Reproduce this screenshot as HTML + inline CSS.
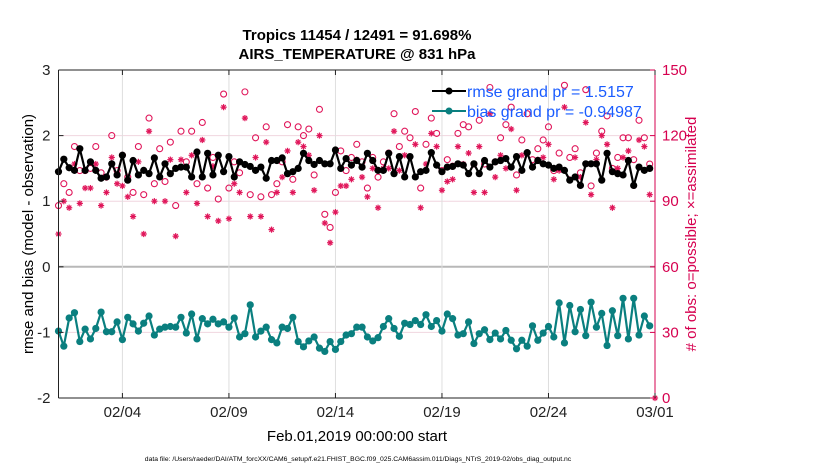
<!DOCTYPE html>
<html><head><meta charset="utf-8">
<style>
html,body{margin:0;padding:0;background:#fff;}
svg{display:block;font-family:"Liberation Sans",Arial,sans-serif;}
</style></head>
<body>
<svg id="chart" width="830" height="470" viewBox="0 0 830 470">
<text x="357" y="40" text-anchor="middle" font-size="15" font-weight="bold">Tropics 11454 / 12491 = 91.698%</text>
<text x="357" y="59" text-anchor="middle" font-size="15" font-weight="bold">AIRS_TEMPERATURE @ 831 hPa</text>
<g id="grid"></g>
<g id="marks"></g>
<g id="axes"></g>
<text transform="translate(33,234) rotate(-90)" text-anchor="middle" font-size="15">rmse and bias (model - observation)</text>
<text transform="translate(696,234) rotate(-90)" text-anchor="middle" font-size="15" fill="#d6004f"># of obs: o=possible; ×=assimilated</text>
<text x="357" y="441" text-anchor="middle" font-size="15">Feb.01,2019 00:00:00 start</text>
<text x="358" y="461" text-anchor="middle" font-size="6.8">data file: /Users/raeder/DAI/ATM_forcXX/CAM6_setup/f.e21.FHIST_BGC.f09_025.CAM6assim.011/Diags_NTrS_2019-02/obs_diag_output.nc</text>
<g>
 <line x1="432" y1="91" x2="466" y2="91" stroke="#000" stroke-width="2"/>
 <circle cx="449" cy="91" r="3.5" fill="#000"/>
 <text x="467" y="97" font-size="16" fill="#1a5cff">rmse grand pr = 1.5157</text>
 <line x1="432" y1="111" x2="466" y2="111" stroke="#0a7f7f" stroke-width="2"/>
 <circle cx="449" cy="111" r="3.5" fill="#0a7f7f"/>
 <text x="467" y="117" font-size="16" fill="#1a5cff">bias grand pr = -0.94987</text>
</g>
</svg>
<script>
const xTickLabels = ["02/04","02/09","02/14","02/19","02/24","03/01"];
const xTickDays = [3,8,13,18,23,28];
const yLeftTicks = [3,2,1,0,-1,-2];
const yRightTicks = [150,120,90,60,30,0];
const rmse = [1.45,1.64,1.51,1.47,1.80,1.47,1.60,1.47,1.35,1.37,1.57,1.40,1.70,1.32,1.62,1.40,1.47,1.42,1.66,1.37,1.57,1.42,1.50,1.52,1.52,1.37,1.75,1.37,1.73,1.40,1.70,1.45,1.68,1.37,1.60,1.56,1.53,1.47,1.52,1.35,1.62,1.62,1.66,1.42,1.45,1.50,1.73,1.62,1.56,1.62,1.57,1.57,1.78,1.50,1.65,1.55,1.62,
1.52,1.73,1.62,1.47,1.47,1.73,1.42,1.68,1.37,1.68,1.37,1.45,1.47,1.74,1.55,1.45,1.52,1.53,1.57,1.55,1.42,1.57,1.42,1.62,1.52,1.60,1.62,1.65,1.52,1.68,1.47,1.74,1.52,1.62,1.57,1.55,1.50,1.52,1.47,1.32,1.37,1.24,1.57,1.57,1.57,1.32,1.73,1.45,1.42,1.40,1.62,1.24,1.52,1.47,1.50];
const bias = [-0.98,-1.21,-0.78,-0.70,-1.14,-0.95,-1.10,-0.94,-0.69,-0.99,-0.99,-0.84,-1.11,-0.77,-0.87,-0.98,-0.86,-0.75,-1.04,-0.95,-0.92,-0.91,-0.92,-0.77,-1.01,-0.72,-1.10,-0.79,-0.87,-0.80,-0.87,-0.84,-0.92,-0.78,-1.07,-1.02,-0.58,-1.07,-0.98,-0.92,-1.11,-1.16,-0.92,-0.94,-0.77,-1.14,-1.22,-1.13,-1.07,-1.24,-1.29,-1.14,-1.26,-1.14,-1.04,-1.02,-0.92,-0.92,-1.07,-1.13,-1.08,-0.91,-0.79,-0.94,-1.06,-0.86,-0.88,-0.82,-0.88,-0.73,-0.91,-0.82,-0.98,-0.72,-0.79,-1.04,-1.02,-0.84,-1.17,-1.02,-0.96,-1.11,-1.01,-1.10,-0.97,-1.12,-1.25,-1.12,-1.21,-0.90,-1.12,-1.01,-0.91,-1.07,-0.55,-1.16,-0.59,-0.99,-0.65,-1.05,-0.54,-0.92,-0.71,-1.20,-0.67,-1.05,-0.48,-1.10,-0.48,-1.04,-0.75,-0.90];
const possible = [88,98,94,115,104,104,105,115,103,101,120,104,111,101,94,115,93,128,98,114,99,117,88,122,108,122,98,126,96,110,91,139,96,108,103,140,93,119,92,124,93,98,108,125,100,124,120,123,102,132,84,78,94,113,104,110,116,
108,96,110,101,108,112,130,115,122,119,131,96,116,128,121,104,109,106,121,125,124,107,127,107,142,108,119,125,133,102,118,130,109,114,118,124,104,112,143,110,114,103,141,97,112,122,129,105,110,119,119,109,127,119,107];
const assimilated = [75,90,87,107,89,96,96,107,88,94,110,98,97,92,83,108,75,122,90,101,90,109,74,109,94,111,89,118,83,106,81,133,82,98,94,128,83,110,83,117,77,94,101,113,94,117,115,111,95,120,80,71,85,97,97,100,109,
101,92,105,87,105,105,122,104,111,110,116,87,107,121,115,95,99,100,115,107,112,94,115,94,130,101,111,105,123,95,111,112,106,109,110,116,100,104,133,100,110,101,126,93,109,120,116,87,105,110,113,97,118,115,93];

const NS="http://www.w3.org/2000/svg";
const L=58.5,R=655,T=70,B=398;
const dayW=(R-L)/28;
const xOf=d=>L+d*dayW;
const yOf=v=>T+(3-v)*(B-T)/5;
const yOfCount=c=>T+(150-c)*(B-T)/150;
function mk(tag,attrs,parent){const e=document.createElementNS(NS,tag);for(const k in attrs)e.setAttribute(k,attrs[k]);parent.appendChild(e);return e;}
const grid=document.getElementById('grid'),marks=document.getElementById('marks'),axes=document.getElementById('axes');

yLeftTicks.forEach(v=>{
  if(v===3||v===-2)return;
  const g=mk('line',{x1:L,x2:R,y1:yOf(v),y2:yOf(v),stroke:v===0?'#b8b8b8':'#f0d6df','stroke-width':v===0?2:1},grid);
  
  
});
xTickDays.forEach(d=>{
  const g=mk('line',{x1:xOf(d),x2:xOf(d),y1:T,y2:B,stroke:'#dedede','stroke-width':1},grid);
  
  
});

const tOf=i=>i*0.25;
possible.forEach((c,i)=>{
  const m=mk('circle',{cx:xOf(tOf(i)),cy:yOfCount(c),r:3,fill:'none',stroke:'#e0165a','stroke-width':1.1},marks);
  
  
});
function star(x,y,parent){
  const g=mk('g',{stroke:'#e0165a','stroke-width':1.2},parent);
  const s=3.1;
  mk('line',{x1:x-s,x2:x+s,y1:y,y2:y},g);
  mk('line',{x1:x,x2:x,y1:y-s,y2:y+s},g);
  mk('line',{x1:x-s*0.7,x2:x+s*0.7,y1:y-s*0.7,y2:y+s*0.7},g);
  mk('line',{x1:x-s*0.7,x2:x+s*0.7,y1:y+s*0.7,y2:y-s*0.7},g);
  return g;
}
assimilated.forEach((c,i)=>{
  const m=star(xOf(tOf(i)),yOfCount(c),marks);
  
  
});
const endStar=star(R,yOfCount(0),marks);



function series(vals,color,name){
  const pts=vals.map((v,i)=>xOf(tOf(i)).toFixed(1)+','+yOf(v).toFixed(1)).join(' ');
  const p=mk('polyline',{points:pts,fill:'none',stroke:color,'stroke-width':2.2,'stroke-linejoin':'round'},marks);
  
  
  vals.forEach((v,i)=>{
    const c=mk('circle',{cx:xOf(tOf(i)),cy:yOf(v),r:3.6,fill:color},marks);
    
    
  });
}
series(rmse,'#000','rmse');
series(bias,'#0a7f7f','bias');

mk('line',{x1:L,x2:R,y1:T,y2:T,stroke:'#222','stroke-width':1},axes);
mk('line',{x1:L,x2:R,y1:B,y2:B,stroke:'#222','stroke-width':1},axes);
mk('line',{x1:L,x2:L,y1:T,y2:B,stroke:'#222','stroke-width':1},axes);
mk('line',{x1:R,x2:R,y1:T,y2:B,stroke:'#d6004f','stroke-width':1},axes);
xTickDays.forEach((d,i)=>{
  mk('line',{x1:xOf(d),x2:xOf(d),y1:T,y2:T+5,stroke:'#222'},axes);
  mk('line',{x1:xOf(d),x2:xOf(d),y1:B,y2:B-5,stroke:'#222'},axes);
  const t=mk('text',{x:xOf(d),y:B+19,'text-anchor':'middle','font-size':15,fill:'#222'},axes);
  t.textContent=xTickLabels[i];
  
  
});
yLeftTicks.forEach(v=>{
  mk('line',{x1:L,x2:L+5,y1:yOf(v),y2:yOf(v),stroke:'#222'},axes);
  const t=mk('text',{x:L-8,y:yOf(v)+5,'text-anchor':'end','font-size':15,fill:'#222'},axes);
  t.textContent=v;
  
  
});
yRightTicks.forEach(c=>{
  mk('line',{x1:R-5,x2:R,y1:yOfCount(c),y2:yOfCount(c),stroke:'#d6004f'},axes);
  const t=mk('text',{x:R+7,y:yOfCount(c)+5,'text-anchor':'start','font-size':15,fill:'#d6004f'},axes);
  t.textContent=c;
  
  
});
</script>
</body></html>
